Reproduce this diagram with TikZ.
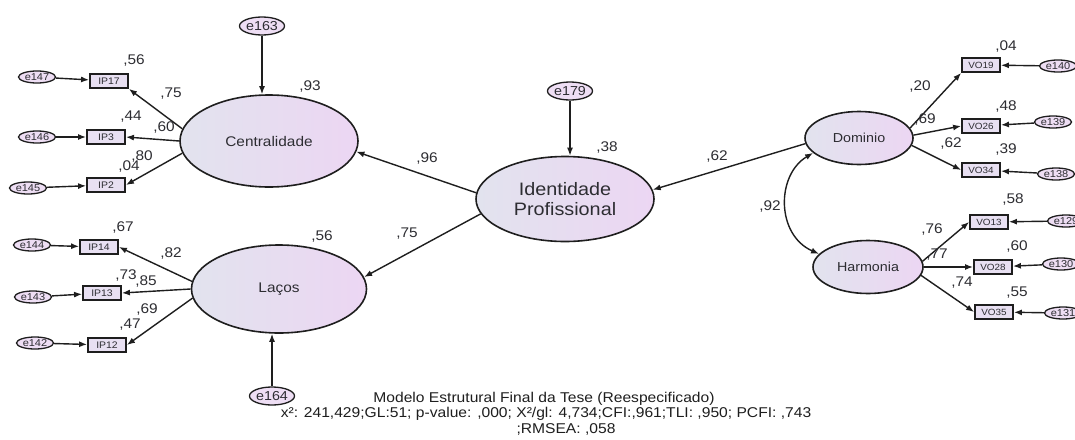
\documentclass[tikz,border=0pt]{standalone}
\usepackage{fontspec}
\setmainfont{Liberation Sans}[FakeStretch=1.1]
\usetikzlibrary{shapes.geometric,arrows.meta}

\definecolor{shadeL}{RGB}{226,227,238}
\definecolor{shadeR}{RGB}{236,214,243}
\definecolor{boxfill}{RGB}{232,224,242}
\definecolor{errfill}{RGB}{238,222,244}
\definecolor{ink}{RGB}{30,30,30}
\definecolor{txt}{RGB}{45,45,50}

\begin{document}
\begin{tikzpicture}[x=1pt,y=-1pt,
  latent/.style={ellipse, draw=ink, line width=1.6pt, left color=shadeL, right color=shadeR,
    inner sep=0pt, align=center, text=txt},
  obs/.style={rectangle, draw=ink, line width=1.8pt, fill=boxfill, minimum width=38pt,
    minimum height=14pt, inner sep=0pt, text=txt, font=\fontsize{9.5}{10}\selectfont},
  err/.style={ellipse, draw=ink, line width=1.3pt, fill=errfill, inner sep=0pt,
    minimum width=37pt, minimum height=12pt, text=txt, font=\fontsize{10}{11}\selectfont},
  bigerr/.style={err, minimum width=42pt, minimum height=18pt, font=\fontsize{13}{14}\selectfont},
  arr/.style={-{Latex[length=8pt,width=6pt]}, line width=1.4pt, draw=ink},
  biarr/.style={{Latex[length=8pt,width=6pt]}-{Latex[length=8pt,width=6pt]}, line width=1.4pt, draw=ink},
  num/.style={font=\fontsize{14}{15}\selectfont, inner sep=0pt, text=txt},
  captxt/.style={font=\fontsize{14.2}{15}\selectfont, inner sep=0pt, text=ink},
]
\clip (0,0) rectangle (1075,439);
\fill[white] (0,0) rectangle (1075,439);

% latent variables
\node[latent, minimum width=178pt, minimum height=92pt, font=\fontsize{14}{15}\selectfont] (cent) at (269,141) {Centralidade};
\node[latent, minimum width=175pt, minimum height=88pt, font=\fontsize{14}{15}\selectfont] (laco) at (279,289) {Laços};
\node[latent, minimum width=178pt, minimum height=85pt, font=\fontsize{18}{20}\selectfont] (ident) at (565,199) {Identidade\\Profissional};
\node[latent, minimum width=108pt, minimum height=53pt, font=\fontsize{13}{14}\selectfont] (dom) at (859,138) {Dominio};
\node[latent, minimum width=110pt, minimum height=53pt, font=\fontsize{13}{14}\selectfont] (harm) at (868,267) {Harmonia};

% observed items
\node[obs] (ip17) at (109,81) {IP17};
\node[obs] (ip3) at (106,137) {IP3};
\node[obs] (ip2) at (106,185) {IP2};
\node[obs] (ip14) at (99,247) {IP14};
\node[obs] (ip13) at (102,293) {IP13};
\node[obs] (ip12) at (107,345) {IP12};
\node[obs, font=\fontsize{9}{10}\selectfont] (vo19) at (981,65) {VO19};
\node[obs, font=\fontsize{9}{10}\selectfont] (vo26) at (981,126) {VO26};
\node[obs, font=\fontsize{9}{10}\selectfont] (vo34) at (981,170) {VO34};
\node[obs, font=\fontsize{9}{10}\selectfont] (vo13) at (989,222) {VO13};
\node[obs, font=\fontsize{9}{10}\selectfont] (vo28) at (993,267) {VO28};
\node[obs, font=\fontsize{9}{10}\selectfont] (vo35) at (994,312) {VO35};

% error terms
\node[err] (e147) at (37,77) {e147};
\node[err] (e146) at (37,137) {e146};
\node[err] (e145) at (28,188) {e145};
\node[err] (e144) at (32,245) {e144};
\node[err] (e143) at (33,297) {e143};
\node[err] (e142) at (35,343) {e142};
\node[err] (e140) at (1058,66) {e140};
\node[err] (e139) at (1053,122) {e139};
\node[err] (e138) at (1056,174) {e138};
\node[err] (e129) at (1066,221) {e129};
\node[err] (e130) at (1061,264) {e130};
\node[err] (e131) at (1063,313) {e131};
\node[bigerr] (e163) at (262,26) {e163};
\node[bigerr] (e179) at (570,91) {e179};
\node[bigerr] (e164) at (272,396) {e164};

% residuals into items
\foreach \e/\v in {e147/ip17, e146/ip3, e145/ip2, e144/ip14, e143/ip13, e142/ip12,
                   e140/vo19, e139/vo26, e138/vo34, e129/vo13, e130/vo28, e131/vo35}
  \draw[arr] (\e) -- (\v);

% loadings
\draw[arr] (cent.172) -- (ip17.south east);
\draw[arr] (cent.west) -- (ip3.east);
\draw[arr] (cent.188) -- (ip2.east);
\draw[arr] (laco.175) -- (ip14.east);
\draw[arr] (laco.west) -- (ip13.east);
\draw[arr] (laco.186) -- (ip12.east);
\draw[arr] (dom.11) -- (vo19.south west);
\draw[arr] (dom.3) -- (vo26.west);
\draw[arr] (dom.-8) -- (vo34.west);
\draw[arr] (harm.6) -- (vo13.west);
\draw[arr] (harm.east) -- (vo28.west);
\draw[arr] (harm.-9) -- (vo35.west);

% structural paths
\draw[arr] (ident.176) -- (cent.-7);
\draw[arr] (ident.190) -- (laco.8);
\draw[arr] (dom.186) -- (ident.6);
\draw[biarr] (dom.198) .. controls (776,175) and (776,235) .. (harm.165);

% disturbances
\draw[arr] (e163) -- (e163 |- cent.north);
\draw[arr] (e179) -- (e179 |- ident.north);
\draw[arr] (e164) -- (e164 |- laco.south);

% estimates
\node[num] (r93) at (310,87) {,93};
\node[num] (r56a) at (134,61) {,56};
\node[num] (l75a) at (171,94) {,75};
\node[num] (r44) at (131,117) {,44};
\node[num] (l60) at (164,128) {,60};
\node[num] (l80) at (142,157) {,80};
\node[num] (r04a) at (129,167) {,04};
\node[num] (r67) at (123,228) {,67};
\node[num] (l82) at (171,254) {,82};
\node[num] (r73) at (126,276) {,73};
\node[num] (l85) at (146,282) {,85};
\node[num] (l69a) at (147,310) {,69};
\node[num] (r47) at (130,325) {,47};
\node[num] (r56b) at (322,237) {,56};
\node[num] (l96) at (427,159) {,96};
\node[num] (l75b) at (407,234) {,75};
\node[num] (r38) at (607,148) {,38};
\node[num] (l62a) at (717,157) {,62};
\node[num] (c92) at (770,207) {,92};
\node[num] (r04b) at (1006,47) {,04};
\node[num] (l20) at (920,87) {,20};
\node[num] (r48) at (1006,107) {,48};
\node[num] (l69b) at (925,120) {,69};
\node[num] (l62b) at (951,144) {,62};
\node[num] (r39) at (1006,150) {,39};
\node[num] (r58) at (1013,200) {,58};
\node[num] (l76) at (932,230) {,76};
\node[num] (l77) at (937,255) {,77};
\node[num] (r60) at (1017,247) {,60};
\node[num] (l74) at (962,283) {,74};
\node[num] (r55) at (1017,293) {,55};

% caption
\node[captxt] (cap1) at (544,399) {Modelo Estrutural Final da Tese (Reespecificado)};
\node[captxt] (cap2) at (546,414) {x²: 241,429;GL:51; p-value: ,000; X²/gl: 4,734;CFI:,961;TLI: ,950; PCFI: ,743};
\node[captxt] (cap3) at (566,429) {;RMSEA: ,058};
\end{tikzpicture}
\end{document}
